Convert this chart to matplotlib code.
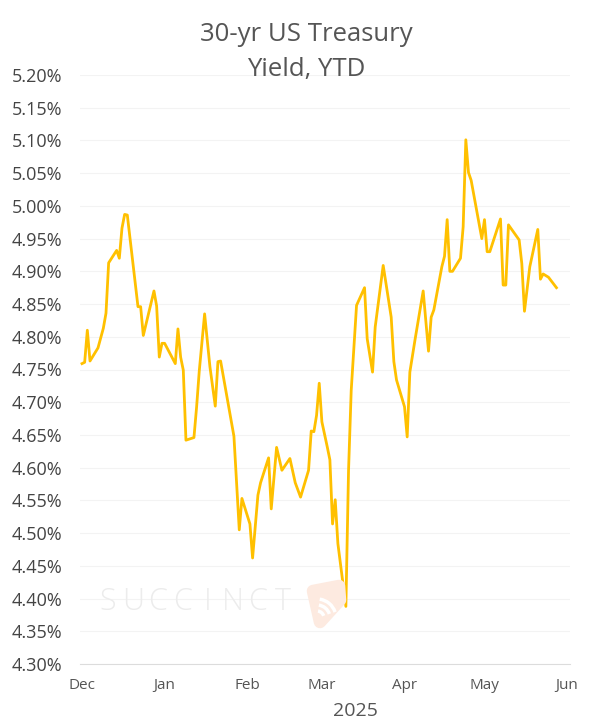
import matplotlib
matplotlib.use("Agg")
import matplotlib.pyplot as plt
import matplotlib.dates as mdates
from matplotlib.patches import Polygon, Arc
from matplotlib.ticker import FuncFormatter
import pandas as pd

plt.rcParams["font.family"] = ["Open Sans", "DejaVu Sans"]

dates = [
    "2024-12-01", "2024-12-02", "2024-12-03", "2024-12-04", "2024-12-07", "2024-12-09",
    "2024-12-10", "2024-12-11", "2024-12-14", "2024-12-15", "2024-12-16", "2024-12-17",
    "2024-12-18", "2024-12-22", "2024-12-23", "2024-12-24", "2024-12-28", "2024-12-29",
    "2024-12-30", "2024-12-31", "2025-01-01", "2025-01-05", "2025-01-06", "2025-01-07",
    "2025-01-08", "2025-01-09", "2025-01-12", "2025-01-13", "2025-01-14", "2025-01-16",
    "2025-01-18", "2025-01-20", "2025-01-21", "2025-01-22", "2025-01-27", "2025-01-29",
    "2025-01-30", "2025-02-02", "2025-02-03", "2025-02-05", "2025-02-06", "2025-02-09",
    "2025-02-10", "2025-02-12", "2025-02-14", "2025-02-17", "2025-02-19", "2025-02-21",
    "2025-02-24", "2025-02-25", "2025-02-26", "2025-02-27", "2025-02-28", "2025-03-01",
    "2025-03-03", "2025-03-04", "2025-03-05", "2025-03-06", "2025-03-07", "2025-03-10",
    "2025-03-11", "2025-03-12", "2025-03-14", "2025-03-17", "2025-03-18", "2025-03-20",
    "2025-03-21", "2025-03-24", "2025-03-27", "2025-03-28", "2025-03-29", "2025-04-01",
    "2025-04-02", "2025-04-03", "2025-04-05", "2025-04-08", "2025-04-10", "2025-04-11",
    "2025-04-12", "2025-04-15", "2025-04-16", "2025-04-17", "2025-04-18", "2025-04-19",
    "2025-04-22", "2025-04-23", "2025-04-24", "2025-04-25", "2025-04-26", "2025-04-30",
    "2025-05-01", "2025-05-02", "2025-05-03", "2025-05-07", "2025-05-08", "2025-05-09",
    "2025-05-10", "2025-05-14", "2025-05-15", "2025-05-16", "2025-05-18", "2025-05-21",
    "2025-05-22", "2025-05-23", "2025-05-25", "2025-05-28",
]
yields = [
    4.759, 4.761, 4.810, 4.763, 4.783, 4.813,
    4.836, 4.913, 4.932, 4.920, 4.966, 4.987,
    4.986, 4.846, 4.846, 4.802, 4.870, 4.847,
    4.769, 4.790, 4.790, 4.759, 4.812, 4.769,
    4.749, 4.642, 4.646, 4.693, 4.748, 4.835,
    4.754, 4.694, 4.762, 4.763, 4.648, 4.505,
    4.553, 4.514, 4.462, 4.558, 4.577, 4.615,
    4.537, 4.631, 4.596, 4.614, 4.577, 4.555,
    4.596, 4.656, 4.655, 4.680, 4.729, 4.670,
    4.632, 4.612, 4.514, 4.551, 4.484, 4.388,
    4.596, 4.718, 4.848, 4.875, 4.797, 4.746,
    4.815, 4.909, 4.830, 4.762, 4.734, 4.693,
    4.647, 4.746, 4.797, 4.870, 4.778, 4.830,
    4.841, 4.907, 4.923, 4.979, 4.900, 4.900,
    4.920, 4.968, 5.101, 5.051, 5.039, 4.950,
    4.979, 4.930, 4.930, 4.980, 4.879, 4.879,
    4.971, 4.948, 4.912, 4.839, 4.907, 4.964,
    4.888, 4.896, 4.891, 4.875,
]
y_ticks = [4.30, 4.35, 4.40, 4.45, 4.50, 4.55, 4.60, 4.65, 4.70, 4.75,
           4.80, 4.85, 4.90, 4.95, 5.00, 5.05, 5.10, 5.15, 5.20]

x = pd.to_datetime(dates)

W, H = 595, 728


def px(xp, yp):
    # figure pixel (top-left origin) -> figure fraction
    return xp / W, 1 - yp / H


fig = plt.figure(figsize=(W / 100, H / 100), dpi=100)
ax = fig.add_axes([80 / W, 1 - 664 / H, 490 / W, 589 / H])

# watermark behind the line
for i, ch in enumerate("SUCCINCT"):
    fig.text(*px(108 + i * 25, 602), ch, fontsize=22, color="#ececec",
             ha="center", va="center", fontweight="light", zorder=0)
pick = Polygon([px(313, 591), px(339, 586), px(340, 600), px(320, 622)],
               closed=True, transform=fig.transFigure, facecolor="#fdeae0",
               edgecolor="#fdeae0", lw=9, joinstyle="round", zorder=0)
fig.patches.append(pick)
for r in (7, 13, 19):
    arc = Arc(px(317, 618), r * 2 / W, r * 2 / H, theta1=15, theta2=80,
              transform=fig.transFigure, color="white", lw=2.5, zorder=1)
    fig.patches.append(arc)

ax.set_facecolor("none")
ax.plot(x, yields, color="#FFC000", lw=2.0, zorder=3)

ax.set_ylim(4.30, 5.20)
ax.set_yticks(y_ticks)
ax.yaxis.set_major_formatter(FuncFormatter(lambda v, p: f"{v:.2f}%"))
ax.grid(True, axis="y", color="#f3f3f3", lw=0.8)
ax.set_axisbelow(True)

ax.set_xlim(pd.Timestamp("2024-12-01") - pd.Timedelta(hours=18),
            pd.Timestamp("2025-06-01") + pd.Timedelta(hours=26))
ax.xaxis.set_major_locator(mdates.MonthLocator())
ax.xaxis.set_major_formatter(mdates.DateFormatter("%b"))

for s in ("top", "right", "left"):
    ax.spines[s].set_visible(False)
ax.spines["bottom"].set_color("#dcdcdc")
ax.spines["bottom"].set_linewidth(0.8)
ax.tick_params(axis="y", length=0, pad=13, labelsize=13, labelcolor="#444444")
ax.tick_params(axis="x", length=0, pad=10, labelsize=11, labelcolor="#555555")

fig.text(*px(306, 41), "30-yr US Treasury", ha="center", va="baseline",
         fontsize=18.5, color="#555555")
fig.text(*px(306, 76), "Yield, YTD", ha="center", va="baseline",
         fontsize=18.5, color="#555555")
fig.text(*px(355, 716), "2025", ha="center", va="baseline",
         fontsize=14, color="#555555")

fig.savefig("out.png", dpi=100)
plt.close(fig)
